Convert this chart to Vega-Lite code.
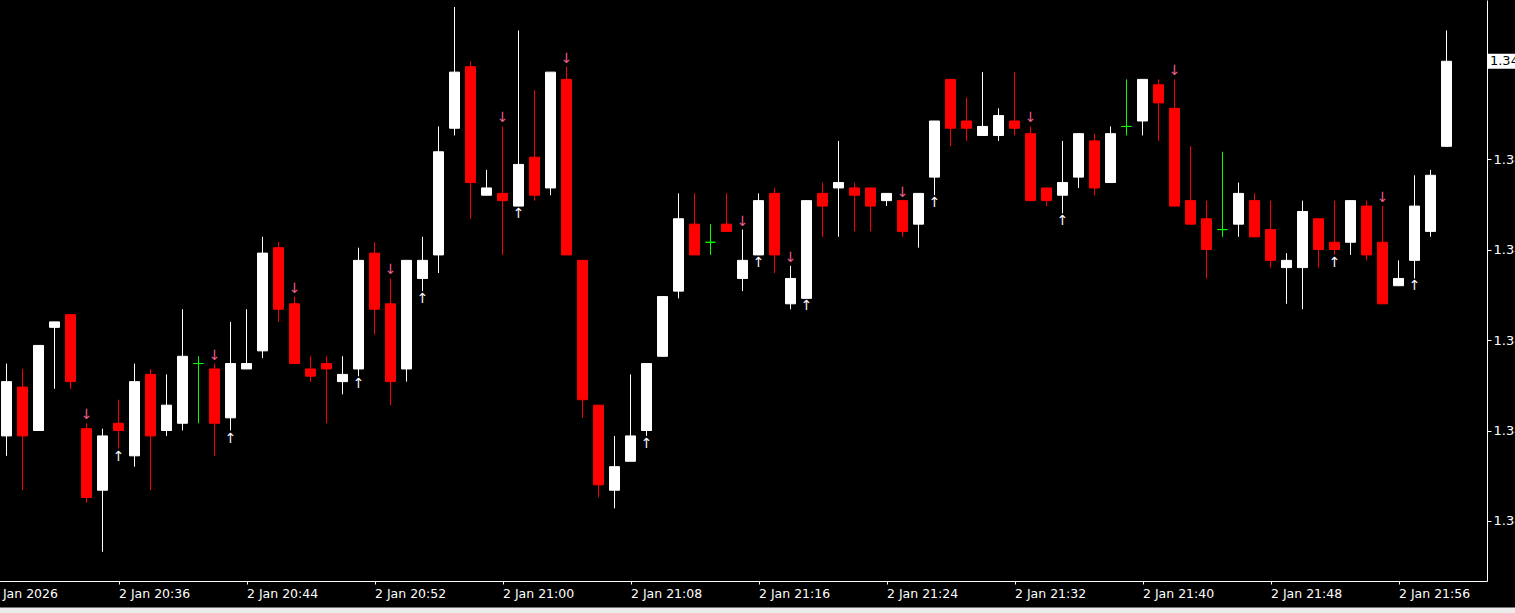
{
  "$schema": "https://vega.github.io/schema/vega-lite/v6.json",
  "width": 1497,
  "height": 581,
  "autosize": {"type": "none"},
  "padding": {"left": -10, "top": 0, "right": 28, "bottom": 32},
  "background": "#000000",
  "config": {"view": {"stroke": null}, "scale": {"continuousPadding": 0}},
  "datasets": {
    "bars": [
      {"t":"2026-01-02T20:29:00","o":1.34447,"h":1.34487,"l":1.34436,"c":1.34477,"a":""},
      {"t":"2026-01-02T20:30:00","o":1.34474,"h":1.34484,"l":1.34417,"c":1.34447,"a":""},
      {"t":"2026-01-02T20:31:00","o":1.34450,"h":1.34497,"l":1.34450,"c":1.34497,"a":""},
      {"t":"2026-01-02T20:32:00","o":1.34507,"h":1.34510,"l":1.34473,"c":1.34510,"a":""},
      {"t":"2026-01-02T20:33:00","o":1.34514,"h":1.34514,"l":1.34473,"c":1.34477,"a":""},
      {"t":"2026-01-02T20:34:00","o":1.34451,"h":1.34454,"l":1.34410,"c":1.34413,"a":"down"},
      {"t":"2026-01-02T20:35:00","o":1.34417,"h":1.34451,"l":1.34383,"c":1.34447,"a":""},
      {"t":"2026-01-02T20:36:00","o":1.34454,"h":1.34467,"l":1.34440,"c":1.34450,"a":"up"},
      {"t":"2026-01-02T20:37:00","o":1.34436,"h":1.34487,"l":1.34430,"c":1.34477,"a":""},
      {"t":"2026-01-02T20:38:00","o":1.34481,"h":1.34484,"l":1.34417,"c":1.34447,"a":""},
      {"t":"2026-01-02T20:39:00","o":1.34450,"h":1.34481,"l":1.34447,"c":1.34464,"a":""},
      {"t":"2026-01-02T20:40:00","o":1.34454,"h":1.34517,"l":1.34450,"c":1.34491,"a":""},
      {"t":"2026-01-02T20:41:00","o":1.34487,"h":1.34491,"l":1.34454,"c":1.34487,"a":""},
      {"t":"2026-01-02T20:42:00","o":1.34484,"h":1.34487,"l":1.34436,"c":1.34454,"a":"down"},
      {"t":"2026-01-02T20:43:00","o":1.34457,"h":1.34510,"l":1.34450,"c":1.34487,"a":"up"},
      {"t":"2026-01-02T20:44:00","o":1.34484,"h":1.34517,"l":1.34484,"c":1.34487,"a":""},
      {"t":"2026-01-02T20:45:00","o":1.34494,"h":1.34557,"l":1.34490,"c":1.34548,"a":""},
      {"t":"2026-01-02T20:46:00","o":1.34551,"h":1.34554,"l":1.34510,"c":1.34517,"a":""},
      {"t":"2026-01-02T20:47:00","o":1.34520,"h":1.34524,"l":1.34487,"c":1.34487,"a":"down"},
      {"t":"2026-01-02T20:48:00","o":1.34484,"h":1.34491,"l":1.34477,"c":1.34480,"a":""},
      {"t":"2026-01-02T20:49:00","o":1.34487,"h":1.34491,"l":1.34454,"c":1.34484,"a":""},
      {"t":"2026-01-02T20:50:00","o":1.34477,"h":1.34491,"l":1.34470,"c":1.34481,"a":""},
      {"t":"2026-01-02T20:51:00","o":1.34484,"h":1.34551,"l":1.34480,"c":1.34544,"a":"up"},
      {"t":"2026-01-02T20:52:00","o":1.34548,"h":1.34554,"l":1.34503,"c":1.34517,"a":""},
      {"t":"2026-01-02T20:53:00","o":1.34520,"h":1.34534,"l":1.34464,"c":1.34477,"a":"down"},
      {"t":"2026-01-02T20:54:00","o":1.34484,"h":1.34544,"l":1.34477,"c":1.34544,"a":""},
      {"t":"2026-01-02T20:55:00","o":1.34534,"h":1.34557,"l":1.34527,"c":1.34544,"a":"up"},
      {"t":"2026-01-02T20:56:00","o":1.34547,"h":1.34618,"l":1.34537,"c":1.34604,"a":""},
      {"t":"2026-01-02T20:57:00","o":1.34617,"h":1.34684,"l":1.34613,"c":1.34648,"a":""},
      {"t":"2026-01-02T20:58:00","o":1.34651,"h":1.34654,"l":1.34567,"c":1.34587,"a":""},
      {"t":"2026-01-02T20:59:00","o":1.34580,"h":1.34594,"l":1.34580,"c":1.34584,"a":""},
      {"t":"2026-01-02T21:00:00","o":1.34581,"h":1.34618,"l":1.34547,"c":1.34577,"a":"down"},
      {"t":"2026-01-02T21:01:00","o":1.34574,"h":1.34671,"l":1.34574,"c":1.34597,"a":"up"},
      {"t":"2026-01-02T21:02:00","o":1.34601,"h":1.34638,"l":1.34577,"c":1.34580,"a":""},
      {"t":"2026-01-02T21:03:00","o":1.34584,"h":1.34648,"l":1.34580,"c":1.34648,"a":""},
      {"t":"2026-01-02T21:04:00","o":1.34644,"h":1.34651,"l":1.34547,"c":1.34547,"a":"down"},
      {"t":"2026-01-02T21:05:00","o":1.34544,"h":1.34544,"l":1.34457,"c":1.34467,"a":""},
      {"t":"2026-01-02T21:06:00","o":1.34464,"h":1.34464,"l":1.34413,"c":1.34420,"a":""},
      {"t":"2026-01-02T21:07:00","o":1.34417,"h":1.34447,"l":1.34407,"c":1.34430,"a":""},
      {"t":"2026-01-02T21:08:00","o":1.34433,"h":1.34481,"l":1.34433,"c":1.34447,"a":""},
      {"t":"2026-01-02T21:09:00","o":1.34450,"h":1.34487,"l":1.34447,"c":1.34487,"a":"up"},
      {"t":"2026-01-02T21:10:00","o":1.34491,"h":1.34524,"l":1.34491,"c":1.34524,"a":""},
      {"t":"2026-01-02T21:11:00","o":1.34527,"h":1.34581,"l":1.34523,"c":1.34567,"a":""},
      {"t":"2026-01-02T21:12:00","o":1.34564,"h":1.34581,"l":1.34547,"c":1.34547,"a":""},
      {"t":"2026-01-02T21:13:00","o":1.34554,"h":1.34564,"l":1.34547,"c":1.34554,"a":""},
      {"t":"2026-01-02T21:14:00","o":1.34564,"h":1.34581,"l":1.34560,"c":1.34560,"a":""},
      {"t":"2026-01-02T21:15:00","o":1.34534,"h":1.34561,"l":1.34527,"c":1.34544,"a":"down"},
      {"t":"2026-01-02T21:16:00","o":1.34547,"h":1.34581,"l":1.34547,"c":1.34577,"a":"up"},
      {"t":"2026-01-02T21:17:00","o":1.34581,"h":1.34584,"l":1.34537,"c":1.34547,"a":""},
      {"t":"2026-01-02T21:18:00","o":1.34520,"h":1.34541,"l":1.34517,"c":1.34534,"a":"down"},
      {"t":"2026-01-02T21:19:00","o":1.34523,"h":1.34577,"l":1.34523,"c":1.34577,"a":"up"},
      {"t":"2026-01-02T21:20:00","o":1.34581,"h":1.34587,"l":1.34557,"c":1.34574,"a":""},
      {"t":"2026-01-02T21:21:00","o":1.34584,"h":1.34610,"l":1.34557,"c":1.34587,"a":""},
      {"t":"2026-01-02T21:22:00","o":1.34584,"h":1.34587,"l":1.34560,"c":1.34580,"a":""},
      {"t":"2026-01-02T21:23:00","o":1.34584,"h":1.34584,"l":1.34560,"c":1.34574,"a":""},
      {"t":"2026-01-02T21:24:00","o":1.34577,"h":1.34581,"l":1.34574,"c":1.34581,"a":""},
      {"t":"2026-01-02T21:25:00","o":1.34577,"h":1.34577,"l":1.34557,"c":1.34560,"a":"down"},
      {"t":"2026-01-02T21:26:00","o":1.34564,"h":1.34581,"l":1.34551,"c":1.34581,"a":""},
      {"t":"2026-01-02T21:27:00","o":1.34590,"h":1.34621,"l":1.34580,"c":1.34621,"a":"up"},
      {"t":"2026-01-02T21:28:00","o":1.34644,"h":1.34644,"l":1.34607,"c":1.34617,"a":""},
      {"t":"2026-01-02T21:29:00","o":1.34621,"h":1.34634,"l":1.34610,"c":1.34617,"a":""},
      {"t":"2026-01-02T21:30:00","o":1.34613,"h":1.34648,"l":1.34613,"c":1.34618,"a":""},
      {"t":"2026-01-02T21:31:00","o":1.34613,"h":1.34628,"l":1.34610,"c":1.34624,"a":""},
      {"t":"2026-01-02T21:32:00","o":1.34621,"h":1.34648,"l":1.34613,"c":1.34617,"a":""},
      {"t":"2026-01-02T21:33:00","o":1.34614,"h":1.34618,"l":1.34577,"c":1.34577,"a":"down"},
      {"t":"2026-01-02T21:34:00","o":1.34584,"h":1.34584,"l":1.34574,"c":1.34577,"a":""},
      {"t":"2026-01-02T21:35:00","o":1.34580,"h":1.34610,"l":1.34570,"c":1.34587,"a":"up"},
      {"t":"2026-01-02T21:36:00","o":1.34590,"h":1.34614,"l":1.34584,"c":1.34614,"a":""},
      {"t":"2026-01-02T21:37:00","o":1.34610,"h":1.34614,"l":1.34580,"c":1.34584,"a":""},
      {"t":"2026-01-02T21:38:00","o":1.34587,"h":1.34618,"l":1.34587,"c":1.34614,"a":""},
      {"t":"2026-01-02T21:39:00","o":1.34618,"h":1.34644,"l":1.34613,"c":1.34618,"a":""},
      {"t":"2026-01-02T21:40:00","o":1.34621,"h":1.34644,"l":1.34613,"c":1.34644,"a":""},
      {"t":"2026-01-02T21:41:00","o":1.34641,"h":1.34644,"l":1.34610,"c":1.34631,"a":""},
      {"t":"2026-01-02T21:42:00","o":1.34628,"h":1.34644,"l":1.34574,"c":1.34574,"a":"down"},
      {"t":"2026-01-02T21:43:00","o":1.34577,"h":1.34607,"l":1.34564,"c":1.34564,"a":""},
      {"t":"2026-01-02T21:44:00","o":1.34567,"h":1.34577,"l":1.34534,"c":1.34550,"a":""},
      {"t":"2026-01-02T21:45:00","o":1.34561,"h":1.34604,"l":1.34557,"c":1.34561,"a":""},
      {"t":"2026-01-02T21:46:00","o":1.34564,"h":1.34587,"l":1.34557,"c":1.34581,"a":""},
      {"t":"2026-01-02T21:47:00","o":1.34577,"h":1.34581,"l":1.34557,"c":1.34557,"a":""},
      {"t":"2026-01-02T21:48:00","o":1.34561,"h":1.34577,"l":1.34540,"c":1.34544,"a":""},
      {"t":"2026-01-02T21:49:00","o":1.34540,"h":1.34548,"l":1.34520,"c":1.34544,"a":""},
      {"t":"2026-01-02T21:50:00","o":1.34540,"h":1.34577,"l":1.34517,"c":1.34571,"a":""},
      {"t":"2026-01-02T21:51:00","o":1.34567,"h":1.34567,"l":1.34540,"c":1.34550,"a":""},
      {"t":"2026-01-02T21:52:00","o":1.34554,"h":1.34577,"l":1.34547,"c":1.34550,"a":"up"},
      {"t":"2026-01-02T21:53:00","o":1.34554,"h":1.34577,"l":1.34547,"c":1.34577,"a":""},
      {"t":"2026-01-02T21:54:00","o":1.34574,"h":1.34577,"l":1.34544,"c":1.34547,"a":""},
      {"t":"2026-01-02T21:55:00","o":1.34554,"h":1.34574,"l":1.34520,"c":1.34520,"a":"down"},
      {"t":"2026-01-02T21:56:00","o":1.34530,"h":1.34544,"l":1.34530,"c":1.34534,"a":""},
      {"t":"2026-01-02T21:57:00","o":1.34544,"h":1.34591,"l":1.34534,"c":1.34574,"a":"up"},
      {"t":"2026-01-02T21:58:00","o":1.34560,"h":1.34594,"l":1.34557,"c":1.34591,"a":""},
      {"t":"2026-01-02T21:59:00","o":1.34607,"h":1.34671,"l":1.34607,"c":1.34654,"a":""}
    ],
    "last": [{"c": 1.34654}]
  },
  "layer": [
    {
      "data": {"name": "bars"},
      "mark": {"type": "rule", "strokeWidth": 1},
      "encoding": {
        "x": {
          "field": "t", "type": "temporal",
          "scale": {"padding": 0, "domain": [
            {"year": 2026, "month": 1, "date": 2, "hours": 20, "minutes": 27, "seconds": 58, "milliseconds": 125},
            {"year": 2026, "month": 1, "date": 2, "hours": 22, "minutes": 1, "seconds": 31, "milliseconds": 875}
          ]},
          "axis": {
            "title": null, "grid": false,
            "values": [
              {"year": 2026, "month": 1, "date": 2, "hours": 20, "minutes": 28},
              {"year": 2026, "month": 1, "date": 2, "hours": 20, "minutes": 36},
              {"year": 2026, "month": 1, "date": 2, "hours": 20, "minutes": 44},
              {"year": 2026, "month": 1, "date": 2, "hours": 20, "minutes": 52},
              {"year": 2026, "month": 1, "date": 2, "hours": 21, "minutes": 0},
              {"year": 2026, "month": 1, "date": 2, "hours": 21, "minutes": 8},
              {"year": 2026, "month": 1, "date": 2, "hours": 21, "minutes": 16},
              {"year": 2026, "month": 1, "date": 2, "hours": 21, "minutes": 24},
              {"year": 2026, "month": 1, "date": 2, "hours": 21, "minutes": 32},
              {"year": 2026, "month": 1, "date": 2, "hours": 21, "minutes": 40},
              {"year": 2026, "month": 1, "date": 2, "hours": 21, "minutes": 48},
              {"year": 2026, "month": 1, "date": 2, "hours": 21, "minutes": 56}
            ],
            "labelExpr": "hours(datum.value) == 20 && minutes(datum.value) == 28 ? '2 Jan 2026' : timeFormat(datum.value, '%-d %b %H:%M')",
            "domainColor": "#ffffff", "tickColor": "#ffffff", "tickSize": 3,
            "labelColor": "#ffffff", "labelAlign": "left", "labelBaseline": "top",
            "labelFlush": false, "labelOverlap": false, "labelBound": false,
            "labelPadding": 3, "labelFont": "DejaVu Sans", "labelFontSize": 12.5
          }
        },
        "y": {
          "field": "l", "type": "quantitative",
          "scale": {"domain": [1.3436685, 1.3468785], "zero": false, "nice": false, "padding": 0},
          "axis": {
            "orient": "right", "title": null, "grid": false,
            "values": [1.344, 1.3445, 1.345, 1.3455, 1.346],
            "format": ".5f",
            "domainColor": "#ffffff", "tickColor": "#ffffff", "tickSize": 4,
            "labelColor": "#ffffff", "labelPadding": 2,
            "labelFont": "DejaVu Sans", "labelFontSize": 13
          }
        },
        "y2": {"field": "h"},
        "color": {
          "condition": [
            {"test": "datum.c > datum.o", "value": "#ffffff"},
            {"test": "datum.c < datum.o", "value": "#ff0000"}
          ],
          "value": "#00ff00"
        }
      }
    },
    {
      "data": {"name": "bars"},
      "mark": {"type": "bar", "size": 10, "strokeWidth": 1},
      "encoding": {
        "x": {"field": "t", "type": "temporal"},
        "y": {"field": "o", "type": "quantitative"},
        "y2": {"field": "c"},
        "fill": {
          "condition": [
            {"test": "datum.c > datum.o", "value": "#ffffff"},
            {"test": "datum.c < datum.o", "value": "#ff0000"}
          ],
          "value": "#00ff00"
        },
        "stroke": {
          "condition": [
            {"test": "datum.c > datum.o", "value": "#ffffff"},
            {"test": "datum.c < datum.o", "value": "#ff0000"}
          ],
          "value": "#00ff00"
        }
      }
    },
    {
      "data": {"name": "bars"},
      "transform": [{"filter": "datum.a == 'down'"}],
      "mark": {"type": "text", "text": "↓", "dy": -8, "color": "#ee5f88", "fontSize": 14, "font": "DejaVu Sans", "baseline": "middle"},
      "encoding": {
        "x": {"field": "t", "type": "temporal"},
        "y": {"field": "h", "type": "quantitative"}
      }
    },
    {
      "data": {"name": "bars"},
      "transform": [{"filter": "datum.a == 'up'"}],
      "mark": {"type": "text", "text": "↑", "dy": 8, "color": "#f2f4ff", "fontSize": 14, "font": "DejaVu Sans", "baseline": "middle"},
      "encoding": {
        "x": {"field": "t", "type": "temporal"},
        "y": {"field": "l", "type": "quantitative"}
      }
    },
    {
      "data": {"name": "last"},
      "mark": {"type": "rule", "strokeWidth": 15, "color": "#ffffff", "strokeCap": "butt"},
      "encoding": {
        "x": {"datum": {"year": 2026, "month": 1, "date": 2, "hours": 22, "minutes": 1, "seconds": 35, "milliseconds": 625}, "type": "temporal"},
        "x2": {"datum": {"year": 2026, "month": 1, "date": 2, "hours": 22, "minutes": 6}},
        "y": {"field": "c", "type": "quantitative"}
      }
    },
    {
      "data": {"name": "last"},
      "mark": {"type": "text", "align": "left", "baseline": "middle", "color": "#000000", "font": "DejaVu Sans", "fontSize": 13},
      "encoding": {
        "x": {"datum": {"year": 2026, "month": 1, "date": 2, "hours": 22, "minutes": 1, "seconds": 43}, "type": "temporal"},
        "y": {"field": "c", "type": "quantitative"},
        "text": {"field": "c", "type": "quantitative", "format": ".5f"}
      }
    },
    {
      "data": {"name": "last"},
      "mark": {"type": "rule", "strokeWidth": 6, "color": "#ececec", "strokeCap": "butt"},
      "encoding": {
        "x": {"datum": {"year": 2026, "month": 1, "date": 2, "hours": 20, "minutes": 20}, "type": "temporal"},
        "x2": {"datum": {"year": 2026, "month": 1, "date": 2, "hours": 22, "minutes": 10}},
        "y": {"datum": 1.3435055, "type": "quantitative"}
      }
    }
  ]
}
